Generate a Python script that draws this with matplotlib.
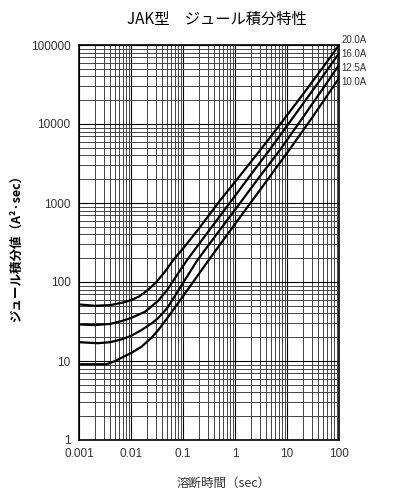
import numpy as np
import matplotlib
matplotlib.use('Agg')
import matplotlib.pyplot as plt
from matplotlib.ticker import LogLocator, FixedLocator, NullFormatter

plt.rcParams['font.family'] = ['Noto Sans CJK JP', 'DejaVu Sans']

# 溶断時間 (sec) と ジュール積分値 (A²·sec) — 図から読み取った値
t_20 = [0.001, 0.002, 0.004, 0.007, 0.01, 0.014, 0.02, 0.03, 0.045, 0.065,
        0.1, 0.2, 0.5, 1, 3, 6, 20, 50, 100]
i2t_20 = [52, 50, 51, 55, 59, 65, 77, 98, 135, 190,
          265, 470, 1050, 1850, 4600, 8300, 23500, 53000, 100000]

t_16 = [0.001, 0.002, 0.004, 0.0066, 0.01, 0.0186, 0.0335, 0.05, 0.075, 0.12,
        0.3, 1, 2.5, 4.6, 15, 40, 100]
i2t_16 = [29, 28.5, 29.5, 32, 35, 42, 58, 80, 120, 190,
          427, 1230, 2760, 4680, 13700, 33500, 78500]

t_125 = [0.001, 0.0023, 0.004, 0.0066, 0.01, 0.016, 0.025, 0.0335, 0.05, 0.1,
         0.19, 0.5, 1, 3, 7.3, 20, 50, 100]
i2t_125 = [17.3, 16.8, 17.3, 18.8, 20.8, 24.7, 30, 35, 47, 97,
           190, 447, 820, 2170, 4680, 12000, 28600, 56000]

t_10 = [0.001, 0.002, 0.0034, 0.005, 0.0066, 0.01, 0.016, 0.025, 0.0335, 0.05,
        0.1, 0.313, 1, 3, 11, 30, 100]
i2t_10 = [9.1, 9.1, 9.1, 10.0, 11.0, 12.6, 15.2, 19.8, 24.7, 35,
          66, 190, 542, 1450, 4680, 11900, 38000]

series = [(t_20, i2t_20, '20.0A'), (t_16, i2t_16, '16.0A'),
          (t_125, i2t_125, '12.5A'), (t_10, i2t_10, '10.0A')]
label_y = [115600, 76400, 50700, 33700]

x_ticks = [0.001, 0.01, 0.1, 1, 10, 100]
x_labels = ['0.001', '0.01', '0.1', '1', '10', '100']
y_ticks = [1, 10, 100, 1000, 10000, 100000]
y_labels = ['1', '10', '100', '1000', '10000', '100000']

fig = plt.figure(figsize=(3.98, 5.0), dpi=100)
ax = fig.add_axes([0.1985, 0.12, 0.6533, 0.79])

for t, v, name in series:
    ax.plot(t, v, color='black', linewidth=1.6, solid_joinstyle='round')

ax.set_xscale('log')
ax.set_yscale('log')
ax.set_xlim(0.001, 100)
ax.set_ylim(1, 100000)

ax.xaxis.set_major_locator(FixedLocator(x_ticks))
ax.yaxis.set_major_locator(FixedLocator(y_ticks))
ax.xaxis.set_minor_locator(LogLocator(base=10, subs=np.arange(2, 10), numticks=20))
ax.yaxis.set_minor_locator(LogLocator(base=10, subs=np.arange(2, 10), numticks=20))
ax.xaxis.set_minor_formatter(NullFormatter())
ax.yaxis.set_minor_formatter(NullFormatter())
ax.set_xticklabels(x_labels, fontsize=8.5, color='#333333', family='Liberation Sans')
ax.set_yticklabels(y_labels, fontsize=8.5, color='#333333', family='Liberation Sans')
ax.tick_params(which='both', length=0, pad=6)

ax.grid(True, which='major', color='black', linewidth=0.8)
ax.grid(True, which='minor', color='#444444', linewidth=0.7)
for s in ax.spines.values():
    s.set_linewidth(1.2)

# 右側の電流ラベル
for (t, v, name), ly in zip(series, label_y):
    ax.text(1.01, ly, name, transform=ax.get_yaxis_transform(), fontsize=7,
            color='#333333', va='center', ha='left', family='Liberation Sans',
            clip_on=False)

fig.text(0.545, 0.962, 'JAK型　ジュール積分特性', ha='center', va='center', fontsize=11)
fig.text(0.04, 0.51, 'ジュール積分値（A²·sec）', ha='center', va='center',
         rotation=90, fontsize=9, fontweight='bold')
fig.text(0.563, 0.034, '溶断時間（sec）', ha='center', va='center', fontsize=9, color='#333333')

fig.savefig('out.png', dpi=100)
